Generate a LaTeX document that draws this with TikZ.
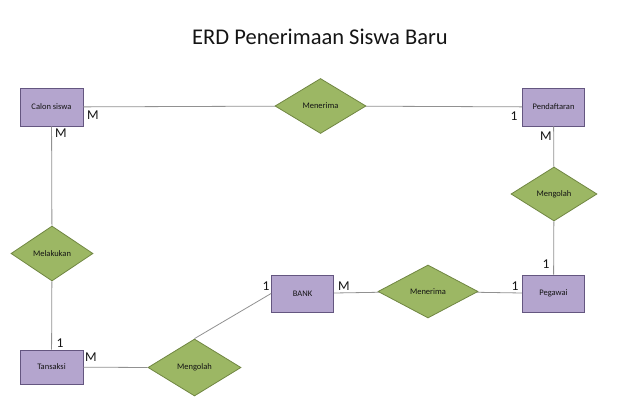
\documentclass[tikz,border=0pt]{standalone}
\usepackage{fontspec}
\setmainfont{Carlito}
\usetikzlibrary{shapes.geometric}
\definecolor{lavender}{RGB}{180,165,206}
\definecolor{plum}{RGB}{100,86,128}
\definecolor{olive}{RGB}{156,183,100}
\definecolor{moss}{RGB}{112,134,66}
\definecolor{wire}{RGB}{145,145,145}
\definecolor{ink}{RGB}{20,20,20}
\tikzset{
  entity/.style={draw=plum,fill=lavender,line width=0.8pt,inner sep=0pt,
    minimum width=62pt,minimum height=37pt,text=ink,font=\fontsize{8.5}{10}\selectfont},
  relasi/.style={diamond,aspect=1.6,draw=moss,fill=olive,line width=0.8pt,inner sep=0pt,
    minimum width=#1,text=ink,font=\fontsize{8.5}{10}\selectfont},
  relasi/.default=90pt,
  card/.style={text=ink,inner sep=0pt,font=\fontsize{13.5}{14}\selectfont},
  link/.style={draw=wire,line width=0.8pt},
}
\begin{document}
\begin{tikzpicture}[x=1pt,y=-1pt]
  \useasboundingbox (0,0) rectangle (620,419);
  \node[font=\fontsize{22.5}{26}\selectfont,text=ink] (judul) at (320,37) {ERD Penerimaan Siswa Baru};
  % entitas
  \node[entity,minimum width=63pt,minimum height=38pt] (calon) at (51.5,107) {Calon siswa};
  \node[entity,minimum height=38pt] (daftar) at (553.5,107) {Pendaftaran};
  \node[entity] (pegawai) at (553.5,293.5) {Pegawai};
  \node[entity] (bank) at (302.5,293.5) {BANK};
  \node[entity,minimum width=63pt,minimum height=34pt] (transaksi) at (51.5,367) {Tansaksi};
  % relasi
  \node[relasi=91pt,minimum height=55pt] (terima1) at (320.5,106) {Menerima};
  \node[relasi=86pt,minimum height=54pt] (olah1) at (554,194) {Mengolah};
  \node[relasi=100pt,minimum height=53pt] (terima2) at (428,291.5) {Menerima};
  \node[relasi=82pt,minimum height=55pt] (lakukan) at (52,253.5) {Melakukan};
  \node[relasi=93pt,minimum height=57pt] (olah2) at (194.5,367.5) {Mengolah};
  % garis
  \draw[link] (calon) -- (terima1) -- (daftar);
  \draw[link] (daftar) -- (olah1) -- (pegawai);
  \draw[link] (calon) -- (lakukan) -- (transaksi);
  \draw[link] (transaksi) -- (olah2.west);
  \draw[link] (olah2.north) -- (bank.west);
  \draw[link] (bank) -- (terima2) -- (pegawai);
  % kardinalitas
  \node[card] (k1) at (93,115) {M};
  \node[card] (k2) at (61,133.5) {M};
  \node[card] (k3) at (514,116) {1};
  \node[card] (k4) at (546,136.5) {M};
  \node[card] (k5) at (546,264) {1};
  \node[card] (k6) at (515,286.5) {1};
  \node[card] (k7) at (344,286.5) {M};
  \node[card] (k8) at (266,286.5) {1};
  \node[card] (k9) at (60,343) {1};
  \node[card] (k10) at (91,357.5) {M};
\end{tikzpicture}
\end{document}
